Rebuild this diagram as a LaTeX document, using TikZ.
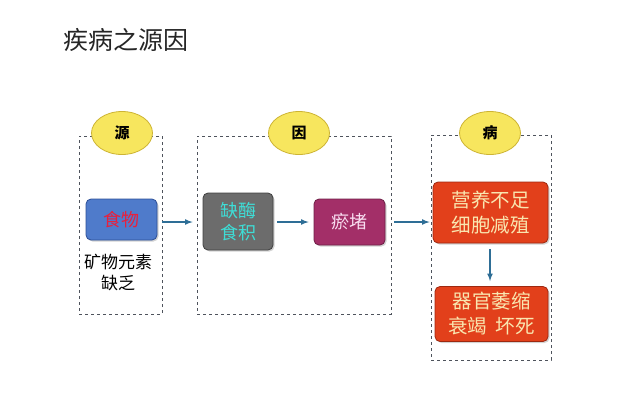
\documentclass[tikz,border=0pt]{standalone}
\usepackage{fontspec}
\newfontfamily\cjk{Noto Sans CJK SC}
\usetikzlibrary{arrows.meta}
\usetikzlibrary{shapes,shapes.geometric,shadows}
\definecolor{framegray}{HTML}{4E535C}
\definecolor{arrowblue}{HTML}{2E6E96}
\definecolor{badgefill}{HTML}{F7E65E}
\definecolor{badgeline}{HTML}{CDB434}
\definecolor{foodfill}{HTML}{4F7BCB}
\definecolor{foodline}{HTML}{2C4E96}
\definecolor{foodtext}{HTML}{E8203C}
\definecolor{grayfill}{HTML}{6C6C6C}
\definecolor{grayline}{HTML}{404040}
\definecolor{graytext}{HTML}{3EDDD6}
\definecolor{plumfill}{HTML}{A32F68}
\definecolor{plumline}{HTML}{6E1F46}
\definecolor{plumtext}{HTML}{F9DDF0}
\definecolor{redfill}{HTML}{E2401B}
\definecolor{redline}{HTML}{9E2810}
\definecolor{redtext}{HTML}{F9E6B0}
\tikzset{>=stealth,
  frame/.style={draw=framegray, thick, dashed, inner sep=0pt},
  badge/.style={ellipse, draw=badgeline, thick, fill=badgefill, inner sep=0pt,
    minimum width=61pt, minimum height=43pt, font=\cjk\bfseries\fontsize{15}{15}\selectfont},
  tile/.style={rectangle, rounded corners=5pt, thick, inner sep=0pt, align=center,
    drop shadow={opacity=0.35, shadow xshift=1.5pt, shadow yshift=-1.5pt},
    font=\cjk\fontsize{18}{22}\selectfont},
  flow/.style={-latex, arrowblue, line width=1.6pt}}

\begin{document}
\begin{tikzpicture}[x=1pt, y=-1pt]
      \useasboundingbox (0,0) rectangle (640,400);
      \node[anchor=west, font=\cjk\fontsize{25}{25}\selectfont, text=black!85] (title) at (60,40) {疾病之源因};
      % dashed groups
      \node[frame, minimum width=83pt, minimum height=178pt] (grpyuan) at (120.5,225) {};
      \node[frame, minimum width=194pt, minimum height=178pt] (grpyin) at (294,225) {};
      \node[frame, minimum width=120pt, minimum height=225pt] (grpbing) at (491,247.5) {};
      % captions
      \node[badge] (badgeyuan) at (122,133) {源};
      \node[badge] (badgeyin) at (299,133) {因};
      \node[badge] (badgebing) at (490,133) {病};
      % boxes
      \node[tile, fill=foodfill, draw=foodline, text=foodtext, minimum width=71pt, minimum height=41pt] (food) at (121.5,219.5) {食物};
      \node[align=center, font=\cjk\fontsize{17}{21}\selectfont] (lack) at (118,272) {矿物元素\\缺乏};
      \node[tile, fill=grayfill, draw=grayline, text=graytext, minimum width=70pt, minimum height=57pt] (enzyme) at (238,221.5) {缺酶\\食积};
      \node[tile, fill=plumfill, draw=plumline, text=plumtext, minimum width=71pt, minimum height=46pt] (block) at (349.5,222) {瘀堵};
      \node[tile, fill=redfill, draw=redline, text=redtext, minimum width=115pt, minimum height=61pt, font=\cjk\fontsize{19.5}{25}\selectfont] (lackcell) at (490.5,212.5) {营养不足\\细胞减殖};
      \node[tile, fill=redfill, draw=redline, text=redtext, minimum width=113pt, minimum height=55pt, font=\cjk\fontsize{19.5}{25}\selectfont] (organ) at (491.5,314) {器官萎缩\\衰竭\ \ 坏死};
      % arrows
      \draw[flow, shorten <=5pt, shorten >=10pt] (food.east |- 0,222) -- (enzyme.west |- 0,222);
      \draw[flow, shorten <=4pt, shorten >=5pt] (enzyme.east |- block.east) -- (block.west);
      \draw[flow, shorten <=9pt, shorten >=3pt] (block.east) -- (block.east -| lackcell.west);
      \draw[flow, shorten <=6pt, shorten >=5pt] (lackcell.south -| 490,0) -- (organ.north -| 490,0);
    \end{tikzpicture}
\end{document}
